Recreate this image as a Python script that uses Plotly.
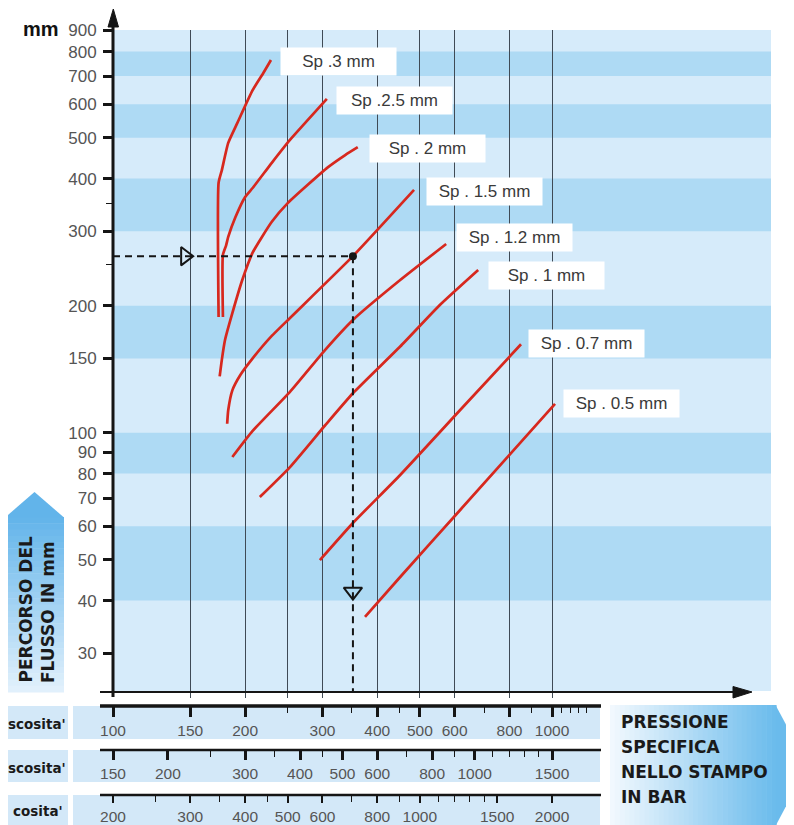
import math
import plotly.graph_objects as go

# ---------------- data ----------------
Y_TICKS = [900, 800, 700, 600, 500, 400, 300, 200, 150, 100, 90, 80, 70, 60, 50, 40, 30]
Y_MINOR_TICKS = [350, 250]
GRID_PRESSURES = [150, 200, 250, 300, 400, 500, 600, 800, 1000]
DARK_BANDS = [(700, 800), (500, 600), (300, 400), (150, 200), (80, 100), (40, 60)]

# the row names are cut off at the left edge of the reference; the visible part is kept
ROW_NAMES = ["scosita'", "scosita'", "cosita'"]
ROW1_TICKS = [100, 150, 200, 300, 400, 500, 600, 800, 1000]
ROW1_MINOR = [250, 350, 450, 700, 900, 1050, 1100, 1150, 1200]
ROW2_TICKS = [150, 200, 300, 400, 500, 600, 800, 1000, 1500]
ROW2_MINOR = [250, 350, 450, 700, 900, 1100, 1200, 1300, 1400]
ROW3_TICKS = [200, 300, 400, 500, 600, 800, 1000, 1500, 2000]
ROW3_MINOR = [250, 350, 450, 700, 900, 1100, 1200, 1300, 1400]

SERIES_NAMES = ["Sp .3 mm", "Sp .2.5 mm", "Sp . 2 mm", "Sp . 1.5 mm",
                "Sp . 1.2 mm", "Sp . 1 mm", "Sp . 0.7 mm", "Sp . 0.5 mm"]
# pressure (bar) / flow length (mm)
sp30_p = [174, 174, 177, 183, 192, 208, 220, 229]
sp30_L = [188, 391, 419, 486, 542, 648, 712, 764]
sp25_p = [178, 178, 181, 183, 190, 200, 208, 230, 253, 274, 307]
sp25_L = [188, 264, 278, 291, 324, 362, 380, 436, 494, 542, 618]
sp20_p = [175, 177, 180, 187, 197, 208, 230, 250, 309, 338, 361]
sp20_L = [136, 149, 166, 192, 230, 267, 316, 350, 426, 455, 475]
sp15_p = [182, 183, 187, 195, 208, 228, 253, 352, 485]
sp15_L = [105, 113, 126, 137, 150, 168, 187, 262, 376]
sp12_p = [187, 208, 253, 304, 352, 451, 574]
sp12_L = [87.6, 101, 125, 157, 185, 230, 280]
sp10_p = [216, 253, 304, 352, 451, 556, 679]
sp10_L = [70.4, 82.9, 104, 124, 160, 201, 243]
sp07_p = [296, 352, 451, 617, 850]
sp07_L = [49.9, 61.1, 79.4, 113, 162]
sp05_p = [375, 451, 617, 1016]
sp05_L = [36.6, 45.5, 65.5, 117]

SERIES_P = [sp30_p, sp25_p, sp20_p, sp15_p, sp12_p, sp10_p, sp07_p, sp05_p]
SERIES_L = [sp30_L, sp25_L, sp20_L, sp15_L, sp12_L, sp10_L, sp07_L, sp05_L]

# worked example: 262 mm flow length -> 352 bar
GUIDE_PRESSURE = 352
GUIDE_FLOW = 262
GUIDE_ARROW_PRESSURE = 146
GUIDE_ARROW_FLOW = 42

# ---------------- styling / geometry ----------------
OFF = 8                      # default body margin of the html page
W, H = 794 - OFF, 825 - OFF

def fx(X):
    return (X - OFF) / W

def fy(Y):
    return 1 - (Y - OFF) / H

RED = "#d7281e"
LIGHT = "#d6ebfa"
DARK = "#aedaf4"
GRID = "#3f4a55"
NUM_FONT = "Liberation Sans, Arial, sans-serif"
BOLD_FONT = "DejaVu Sans, Arial, sans-serif"

PLOT_L, PLOT_R, PLOT_T, PLOT_B = 113, 771, 30, 691
X_PX_DEC, Y_PX_DEC = 439, 422
x_range = [2.0, 2.0 + (PLOT_R - PLOT_L) / X_PX_DEC]
y_range = [math.log10(900) - (PLOT_B - PLOT_T) / Y_PX_DEC, math.log10(900)]

LABEL_YSHIFT = [-1, -2, -1, -2, 6, -6, 1, 0]
LABEL_XSHIFT = [9, 9, 11, 12, 10, 10, 7, 8]

fig = go.Figure()

for p, L in zip(SERIES_P, SERIES_L):
    fig.add_trace(go.Scatter(x=p, y=L, mode="lines",
                             line=dict(color=RED, width=2.7, shape="spline", smoothing=0.5),
                             hoverinfo="skip", showlegend=False))

y_bottom_val = 10 ** y_range[0]
fig.add_trace(go.Scatter(x=[ROW1_TICKS[0], GUIDE_PRESSURE], y=[GUIDE_FLOW, GUIDE_FLOW], mode="lines",
                         line=dict(color="#151515", width=2, dash="7px,5px"),
                         hoverinfo="skip", showlegend=False))
fig.add_trace(go.Scatter(x=[GUIDE_PRESSURE, GUIDE_PRESSURE], y=[GUIDE_FLOW, y_bottom_val], mode="lines",
                         line=dict(color="#151515", width=2, dash="7px,5px"),
                         hoverinfo="skip", showlegend=False))
fig.add_trace(go.Scatter(x=[GUIDE_ARROW_PRESSURE], y=[GUIDE_FLOW], mode="markers",
                         marker=dict(symbol="triangle-right-open", size=16, color="#151515",
                                     line=dict(width=2, color="#151515")),
                         hoverinfo="skip", showlegend=False))
fig.add_trace(go.Scatter(x=[GUIDE_PRESSURE], y=[GUIDE_ARROW_FLOW], mode="markers",
                         marker=dict(symbol="triangle-down-open", size=16, color="#151515",
                                     line=dict(width=2, color="#151515")),
                         hoverinfo="skip", showlegend=False))
fig.add_trace(go.Scatter(x=[GUIDE_PRESSURE], y=[GUIDE_FLOW], mode="markers",
                         marker=dict(symbol="circle", size=8, color="#151515"),
                         hoverinfo="skip", showlegend=False))

# dummy traces so the three bottom scale axes exist
for ax_id, ticks in (("x2", ROW1_TICKS), ("x3", ROW2_TICKS), ("x4", ROW3_TICKS)):
    fig.add_trace(go.Scatter(x=[ticks[0]], y=[Y_TICKS[0]], xaxis=ax_id, yaxis="y", mode="lines",
                             hoverinfo="skip", showlegend=False))

shapes = []
for lo, hi in DARK_BANDS:
    shapes.append(dict(type="rect", xref="x domain", yref="y", x0=0, x1=1, y0=lo, y1=hi,
                       fillcolor=DARK, line_width=0, layer="below"))

# bottom row boxes
ROW_BOX_Y = [(706, 739), (750, 782), (795, 826)]
for y0, y1 in ROW_BOX_Y:
    shapes.append(dict(type="rect", xref="paper", yref="paper", x0=fx(0), x1=fx(68), y0=fy(y1), y1=fy(y0),
                       fillcolor="#d3e8f8", line_width=0, layer="below"))
    shapes.append(dict(type="rect", xref="paper", yref="paper", x0=fx(73), x1=fx(600), y0=fy(y1), y1=fy(y0),
                       fillcolor="#d3e8f8", line_width=0, layer="below"))
for yy, wdt in ((706, 3.5), (750, 2.5), (795, 2.5)):
    shapes.append(dict(type="line", xref="paper", yref="paper", x0=fx(100), x1=fx(601), y0=fy(yy), y1=fy(yy),
                       line=dict(color="#151515", width=wdt)))

# axes with arrows
shapes.append(dict(type="line", xref="paper", yref="paper", x0=fx(113), x1=fx(113), y0=fy(697), y1=fy(24),
                   line=dict(color="#151515", width=3)))
shapes.append(dict(type="path", xref="paper", yref="paper",
                   path=f"M {fx(108)} {fy(27)} L {fx(118.5)} {fy(27)} L {fx(113.3)} {fy(9)} Z",
                   fillcolor="#151515", line=dict(color="#151515", width=1)))
shapes.append(dict(type="line", xref="paper", yref="paper", x0=fx(100), x1=fx(736), y0=fy(692), y1=fy(692),
                   line=dict(color="#151515", width=2)))
shapes.append(dict(type="path", xref="paper", yref="paper",
                   path=f"M {fx(733)} {fy(686.5)} L {fx(733)} {fy(698)} L {fx(752)} {fy(692)} Z",
                   fillcolor="#151515", line=dict(color="#151515", width=1)))

def mix(c1, c2, t):
    a = [int(c1[i:i + 2], 16) for i in (1, 3, 5)]
    b = [int(c2[i:i + 2], 16) for i in (1, 3, 5)]
    return "#" + "".join(f"{round(a[k] + (b[k] - a[k]) * t):02x}" for k in range(3))

# left up-arrow with vertical gradient
TOP_C, BOT_C = "#62b4ea", "#e3f1fc"
N = 28
y_a, y_b = 517, 692
for i in range(N):
    ya = y_a + (y_b - y_a) * i / N
    yb = y_a + (y_b - y_a) * (i + 1) / N
    shapes.append(dict(type="rect", xref="paper", yref="paper", x0=fx(5), x1=fx(64), y0=fy(yb + 0.6), y1=fy(ya),
                       fillcolor=mix(TOP_C, BOT_C, (i + 0.5) / N), line_width=0, layer="below"))
shapes.append(dict(type="path", xref="paper", yref="paper",
                   path=f"M {fx(5)} {fy(517.5)} L {fx(64)} {fy(517.5)} L {fx(34.5)} {fy(492)} Z",
                   fillcolor=TOP_C, line_width=0, layer="below"))

# right arrow with horizontal gradient
L_C, R_C = "#f3f9fe", "#6abbec"
x_a, x_b = 610, 776
for i in range(N + 6):
    xa = x_a + (x_b - x_a) * i / (N + 6)
    xb = x_a + (x_b - x_a) * (i + 1) / (N + 6)
    shapes.append(dict(type="rect", xref="paper", yref="paper", x0=fx(xa), x1=fx(xb + 0.6), y0=fy(826), y1=fy(705),
                       fillcolor=mix(L_C, R_C, (i + 0.5) / (N + 6)), line_width=0, layer="below"))
shapes.append(dict(type="path", xref="paper", yref="paper",
                   path=f"M {fx(775.5)} {fy(705)} L {fx(808)} {fy(765)} L {fx(775.5)} {fy(826)} Z",
                   fillcolor=R_C, line_width=0, layer="below"))

annotations = []
annotations.append(dict(text="<b>mm</b>", x=fx(61), y=fy(29), xref="paper", yref="paper",
                        xanchor="right", yanchor="middle", showarrow=False,
                        font=dict(family=NUM_FONT, size=20, color="#111")))
for name, p, L, dy, dx in zip(SERIES_NAMES, SERIES_P, SERIES_L, LABEL_YSHIFT, LABEL_XSHIFT):
    annotations.append(dict(text=name, x=math.log10(p[-1]), y=math.log10(L[-1]), xref="x", yref="y",
                            xanchor="left", yanchor="middle", xshift=dx, yshift=dy, showarrow=False,
                            bgcolor="white", width=107, height=19, borderpad=4, align="center",
                            font=dict(family=NUM_FONT, size=17, color="#3a3a3a")))
for name, yc, xr in zip(ROW_NAMES, (724, 768, 811), (68, 68, 65)):
    annotations.append(dict(text=f"<b>{name}</b>", x=fx(xr), y=fy(yc), xref="paper", yref="paper",
                            xanchor="right", yanchor="middle", showarrow=False,
                            font=dict(family=BOLD_FONT, size=13.5, color="#1a1a1a")))
for line_txt, yc in zip(["PRESSIONE", "SPECIFICA", "NELLO STAMPO", "IN BAR"], (722, 747, 772, 797)):
    annotations.append(dict(text=f"<b>{line_txt}</b>", x=fx(619), y=fy(yc), xref="paper", yref="paper",
                            xanchor="left", yanchor="middle", showarrow=False,
                            font=dict(family=BOLD_FONT, size=17, color="#1a1a1a")))
for line_txt, xc in zip(["PERCORSO DEL", "FLUSSO IN mm"], (25, 48)):
    annotations.append(dict(text=f"<b>{line_txt}</b>", x=fx(xc), y=fy(685), xref="paper", yref="paper",
                            xanchor="center", yanchor="bottom", textangle=-90, showarrow=False,
                            font=dict(family=BOLD_FONT, size=17, color="#1a1a1a")))

row_tick_font = dict(family=NUM_FONT, size=15.5, color="#555555")

def row_axis(ticks, minor, pos, major_w, tlen):
    shift = math.log10(ticks[0] / ROW1_TICKS[0])
    return dict(type="log", overlaying="x", anchor="free", position=pos, side="bottom",
                range=[x_range[0] + shift, x_range[1] + shift],
                tickmode="array", tickvals=ticks, ticktext=[str(t) for t in ticks],
                ticks="outside", ticklen=tlen, tickwidth=major_w, tickcolor="#151515",
                tickangle=0, tickfont=row_tick_font, showgrid=False, showline=False, zeroline=False,
                automargin=False,
                minor=dict(tickvals=minor, ticks="outside", ticklen=6, tickwidth=1.3,
                           tickcolor="#151515", showgrid=False))

fig.update_layout(
    width=W, height=H, autosize=False,
    margin=dict(l=0, r=0, t=0, b=0, pad=0, autoexpand=False),
    paper_bgcolor="white", plot_bgcolor=LIGHT,
    showlegend=False,
    xaxis=dict(type="log", range=x_range, domain=[fx(PLOT_L), fx(PLOT_R)], anchor="y",
               tickmode="array", tickvals=GRID_PRESSURES, showticklabels=False,
               ticks="outside", ticklen=6, tickwidth=1.2, tickcolor=GRID, automargin=False,
               showgrid=True, gridcolor=GRID, gridwidth=1.2, zeroline=False, showline=False),
    xaxis2=row_axis(ROW1_TICKS, ROW1_MINOR, fy(706), 3, 10),
    xaxis3=row_axis(ROW2_TICKS, ROW2_MINOR, fy(750), 2.5, 9),
    xaxis4=row_axis(ROW3_TICKS, ROW3_MINOR, fy(795), 2, 7),
    yaxis=dict(type="log", range=y_range, domain=[fy(PLOT_B), fy(PLOT_T)], anchor="x",
               tickmode="array", tickvals=Y_TICKS, ticktext=[str(v) for v in Y_TICKS],
               ticks="outside", ticklen=9, tickwidth=2.5, tickcolor="#151515",
               ticklabelstandoff=3, automargin=False,
               tickfont=dict(family=NUM_FONT, size=17, color="#555555"),
               showgrid=False, zeroline=False, showline=False,
               minor=dict(tickvals=Y_MINOR_TICKS, ticks="outside", ticklen=6, tickwidth=1.3,
                          tickcolor="#151515", showgrid=False)),
    shapes=shapes,
    annotations=annotations,
)

fig.write_html("out.html")
